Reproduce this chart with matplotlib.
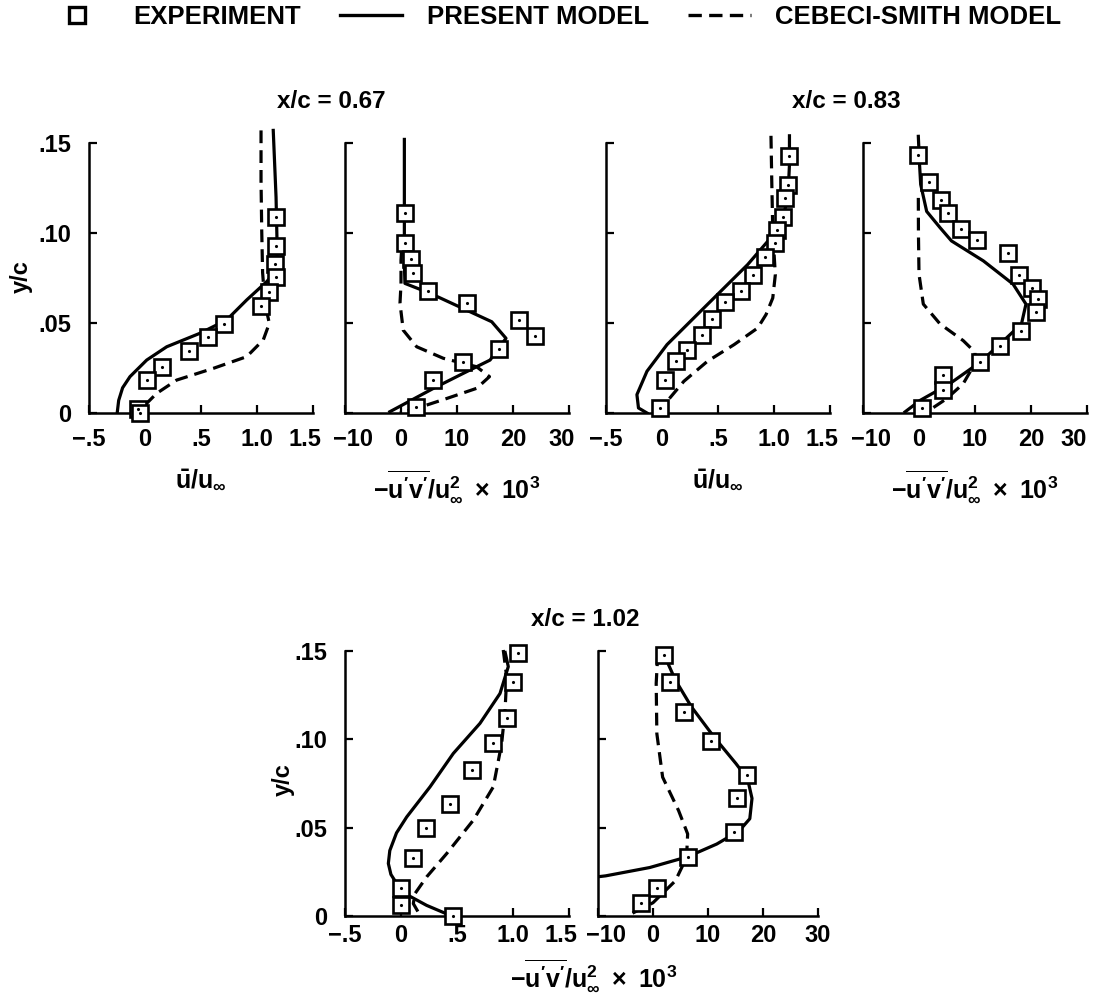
import matplotlib
matplotlib.use("Agg")
import matplotlib.pyplot as plt
from matplotlib.lines import Line2D
from matplotlib.transforms import ScaledTranslation

plt.rcParams['font.family'] = ['Liberation Sans', 'DejaVu Sans']
plt.rcParams['font.weight'] = 'bold'
plt.rcParams['mathtext.fontset'] = 'custom'
plt.rcParams['mathtext.rm'] = 'Liberation Sans:bold'
plt.rcParams['mathtext.it'] = 'Liberation Sans:bold'
plt.rcParams['mathtext.bf'] = 'Liberation Sans:bold'

# ---- data ----
# x/c = 0.67, mean velocity
u067_exp_x = [1.17, 1.17, 1.16, 1.17, 1.11, 1.04, 0.705, 0.565, 0.396, 0.149, 0.015, -0.065, -0.045]
u067_exp_y = [0.109, 0.093, 0.083, 0.0757, 0.0674, 0.0594, 0.0493, 0.0424, 0.0346, 0.0257, 0.0183, 0.002, 0.0]
u067_pm_x = [1.145, 1.17, 1.18, 1.176, 1.087, 0.908, 0.729, 0.491, 0.194, 0.015, -0.134, -0.2, -0.235, -0.247]
u067_pm_y = [0.157, 0.120, 0.092, 0.0794, 0.073, 0.0628, 0.0517, 0.0443, 0.0368, 0.0294, 0.0202, 0.014, 0.007, 0.0007]
u067_cs_x = [1.036, 1.036, 1.042, 1.05, 1.071, 1.11, 1.056, 0.908, 0.61, 0.283, 0.104, -0.015, -0.05]
u067_cs_y = [0.157, 0.129, 0.102, 0.078, 0.061, 0.0498, 0.0406, 0.0313, 0.0248, 0.0183, 0.0109, 0.0035, 0.0007]

# x/c = 0.67, shear stress
uv067_exp_x = [0.71, 0.71, 1.79, 2.2, 4.9, 11.7, 21.0, 23.9, 17.5, 11.1, 5.8, 2.7]
uv067_exp_y = [0.111, 0.0946, 0.0854, 0.078, 0.0678, 0.0613, 0.0517, 0.0428, 0.0356, 0.0282, 0.0183, 0.0032]
uv067_pm_x = [0.6, 0.6, 0.6, 0.7, 5.2, 12.3, 16.2, 18.75, 15.9, 11.1, 5.8, -2.0]
uv067_pm_y = [0.152, 0.120, 0.083, 0.072, 0.0665, 0.0563, 0.0507, 0.0415, 0.0294, 0.022, 0.0137, 0.0007]
uv067_cs_x = [0.1, 0.0, 0.0, -0.18, 0.4, 2.8, 7.55, 13.5, 15.8, 13.5, 8.2, 3.4, -0.2]
uv067_cs_y = [0.09, 0.085, 0.0717, 0.061, 0.046, 0.0368, 0.0304, 0.0257, 0.0202, 0.0137, 0.0081, 0.0032, 0.0]

# x/c = 0.83, mean velocity
u083_exp_x = [1.138, 1.124, 1.102, 1.079, 1.027, 1.012, 0.922, 0.809, 0.704, 0.563, 0.45, 0.36, 0.225, 0.129, 0.024, -0.021]
u083_exp_y = [0.1426, 0.1269, 0.1195, 0.1087, 0.1015, 0.0944, 0.0865, 0.0765, 0.068, 0.0617, 0.0524, 0.0435, 0.0348, 0.029, 0.0185, 0.0028]
u083_pm_x = [1.138, 1.138, 1.124, 1.079, 1.003, 0.944, 0.764, 0.524, 0.284, 0.045, -0.134, -0.224, -0.21, -0.134]
u083_pm_y = [0.154, 0.138, 0.1195, 0.1087, 0.101, 0.0954, 0.0824, 0.0676, 0.0528, 0.038, 0.0232, 0.0102, 0.0028, 0.0]
u083_cs_x = [0.973, 0.98, 0.989, 1.003, 1.012, 0.989, 0.929, 0.854, 0.644, 0.405, 0.195, 0.045, -0.015]
u083_cs_y = [0.154, 0.129, 0.101, 0.086, 0.0769, 0.0639, 0.0547, 0.0472, 0.038, 0.0287, 0.0176, 0.0065, 0.0009]

# x/c = 0.83, shear stress
uv083_exp_x = [-0.12, 1.84, 3.87, 5.23, 7.5, 10.3, 15.95, 17.9, 20.2, 21.3, 20.9, 18.3, 14.5, 10.9, 4.34, 4.23, 0.48]
uv083_exp_y = [0.1432, 0.1284, 0.1186, 0.1112, 0.1024, 0.096, 0.0891, 0.0768, 0.0692, 0.0636, 0.0559, 0.0458, 0.0371, 0.0282, 0.0212, 0.0126, 0.003]
uv083_pm_x = [-0.12, 0.1, 0.3, 1.37, 3.75, 5.8, 11.5, 16.8, 19.1, 18.3, 14.5, 10.9, 5.5, 0.2, -2.5]
uv083_pm_y = [0.1537, 0.138, 0.127, 0.112, 0.103, 0.0956, 0.0845, 0.0716, 0.0605, 0.0495, 0.0384, 0.0282, 0.0163, 0.007, 0.0006]
uv083_cs_x = [-0.12, -0.1, 0.0, 0.77, 3.75, 7.9, 10.0, 10.0, 7.9, 4.95, 1.4]
uv083_cs_y = [0.1195, 0.1, 0.0771, 0.0605, 0.0495, 0.0402, 0.0338, 0.0276, 0.0163, 0.008, 0.0006]

# x/c = 1.02, mean velocity
u102_exp_x = [1.047, 1.003, 0.944, 0.824, 0.631, 0.4375, 0.22, 0.11, 0.003, 0.003, 0.46]
u102_exp_y = [0.1485, 0.1324, 0.1117, 0.0976, 0.0825, 0.0636, 0.0495, 0.0328, 0.0158, 0.0064, 0.0]
u102_pm_x = [0.93, 0.958, 0.884, 0.705, 0.467, 0.259, 0.051, -0.04, -0.1, -0.113, -0.09, -0.04, 0.04, 0.229, 0.4375]
u102_pm_y = [0.149, 0.141, 0.1258, 0.1089, 0.0919, 0.073, 0.056, 0.047, 0.037, 0.0297, 0.0235, 0.0185, 0.0125, 0.006, 0.0004]
u102_cs_x = [0.913, 0.944, 0.929, 0.899, 0.824, 0.646, 0.408, 0.229, 0.125, 0.11, 0.17]
u102_cs_y = [0.1504, 0.135, 0.1164, 0.0976, 0.073, 0.0542, 0.0353, 0.0221, 0.0127, 0.007, 0.0004]

# x/c = 1.02, shear stress
uv102_exp_x = [2.03, 3.02, 5.7, 10.5, 17.1, 15.3, 14.7, 6.3, 0.7, -2.2]
uv102_exp_y = [0.1476, 0.1324, 0.1154, 0.0989, 0.08, 0.0668, 0.0473, 0.0335, 0.0157, 0.0075]
uv102_pm_x = [2.03, 4.07, 7.0, 11.1, 15.1, 17.2, 18.0, 17.6, 15.7, 11.6, 6.3, -0.6, -8.6, -10.5]
uv102_pm_y = [0.1476, 0.1334, 0.1182, 0.1012, 0.0861, 0.0775, 0.0665, 0.055, 0.0482, 0.0407, 0.0335, 0.0274, 0.0227, 0.0220]
uv102_cs_x = [0.87, 0.58, 0.7, 1.75, 4.65, 6.3, 6.1, 4.07, 0.0, -4.1]
uv102_cs_y = [0.1485, 0.1315, 0.1031, 0.0785, 0.0596, 0.0464, 0.0331, 0.0199, 0.0075, 0.001]

u_ticks = [-0.5, 0, 0.5, 1.0, 1.5]
u_ticklabels = ['\u2212.5', '0', '.5', '1.0', '1.5']
uv_ticks = [-10, 0, 10, 20, 30]
uv_ticklabels = ['\u221210', '0', '10', '20', '30']
y_ticks = [0, 0.05, 0.10, 0.15]
y_ticklabels = ['0', '.05', '.10', '.15']

u_label = r'$\bar{\mathrm{u}}/\mathrm{u}_{\infty}$'
uv_label = r"$-\overline{\mathrm{u'v'}}/\mathrm{u}_{\infty}^{2}\ \times\ 10^{3}$"

W, H = 1097, 998
fig = plt.figure(figsize=(W / 100, H / 100), dpi=100)


def px_axes(left, bottom, width, height):
    return fig.add_axes([left / W, 1 - bottom / H, width / W, height / H])


def nudge(label, dx):
    label.set_transform(label.get_transform() + ScaledTranslation(dx / 100, 0, fig.dpi_scale_trans))


def panel(ax, kind, ex, ey, px_, py_, cx, cy, ylab, xpad, xlabel, last_dx=0):
    ax.plot(px_, py_, color='black', lw=2.3, solid_joinstyle='round')
    ax.plot(cx, cy, color='black', lw=2.3, dashes=(4, 2.2))
    ax.plot(ex, ey, ls='none', marker='s', ms=11.5, mfc='white', mec='black',
            mew=1.9, clip_on=False, zorder=5)
    ax.plot(ex, ey, ls='none', marker='.', ms=2.5, color='black', clip_on=False, zorder=6)
    if kind == 'u':
        ax.set_xlim(-0.5, 1.5)
        ax.set_xticks(u_ticks)
        ax.set_xticklabels(u_ticklabels)
    else:
        ax.set_xlim(-10, 30)
        ax.set_xticks(uv_ticks)
        ax.set_xticklabels(uv_ticklabels)
    ax.set_ylim(0, 0.16)
    ax.set_yticks(y_ticks)
    if ylab:
        ax.set_yticklabels(y_ticklabels)
    else:
        ax.set_yticklabels([])
    for s in ['top', 'right']:
        ax.spines[s].set_visible(False)
    for s in ['left', 'bottom']:
        ax.spines[s].set_linewidth(1.8)
    ax.spines['left'].set_bounds(0, 0.15)
    ax.tick_params(direction='in', length=6, width=1.6, labelsize=17)
    ax.tick_params(axis='x', pad=xpad)
    ax.tick_params(axis='y', pad=13)
    ax.patch.set_alpha(0)
    if xlabel:
        ax.set_xlabel(u_label if kind == 'u' else uv_label, fontsize=18, labelpad=12)
    labels = ax.get_xticklabels()
    if kind == 'u':
        nudge(labels[-1], -8)
    else:
        nudge(labels[0], 8)
        if last_dx:
            nudge(labels[-1], last_dx)


ax1 = px_axes(89, 413, 224, 288)
panel(ax1, 'u', u067_exp_x, u067_exp_y, u067_pm_x, u067_pm_y, u067_cs_x, u067_cs_y, True, 11, True)
ax2 = px_axes(345, 413, 224, 288)
panel(ax2, 'uv', uv067_exp_x, uv067_exp_y, uv067_pm_x, uv067_pm_y, uv067_cs_x, uv067_cs_y, False, 11, True, -7)
ax3 = px_axes(606, 413, 224, 288)
panel(ax3, 'u', u083_exp_x, u083_exp_y, u083_pm_x, u083_pm_y, u083_cs_x, u083_cs_y, False, 11, True)
ax4 = px_axes(863, 413, 224, 288)
panel(ax4, 'uv', uv083_exp_x, uv083_exp_y, uv083_pm_x, uv083_pm_y, uv083_cs_x, uv083_cs_y, False, 11, True, -13)
ax5 = px_axes(345, 916, 224, 283)
panel(ax5, 'u', u102_exp_x, u102_exp_y, u102_pm_x, u102_pm_y, u102_cs_x, u102_cs_y, True, 6, False)
ax6 = px_axes(598, 916, 220, 283)
panel(ax6, 'uv', uv102_exp_x, uv102_exp_y, uv102_pm_x, uv102_pm_y, uv102_cs_x, uv102_cs_y, False, 6, False)

# y labels
fig.text(21 / W, 1 - 277 / H, 'y/c', rotation=90, ha='center', va='center', fontsize=17)
fig.text(283 / W, 1 - 780 / H, 'y/c', rotation=90, ha='center', va='center', fontsize=17)

# station titles
fig.text(331 / W, 1 - 101 / H, 'x/c = 0.67', ha='center', va='center', fontsize=17.5)
fig.text(846 / W, 1 - 101 / H, 'x/c = 0.83', ha='center', va='center', fontsize=17.5)
fig.text(585 / W, 1 - 619 / H, 'x/c = 1.02', ha='center', va='center', fontsize=17.5)

# lone label under the bottom pair
fig.text(594 / W, 1 - 975 / H, uv_label, ha='center', va='center', fontsize=18)

handles = [
    Line2D([], [], ls='none', marker='s', ms=11, mfc='white', mec='black', mew=2.4),
    Line2D([], [], color='black', lw=2.4),
    Line2D([], [], color='black', lw=2.4, dashes=(4, 2.2)),
]
fig.legend(handles, ['EXPERIMENT', 'PRESENT MODEL', 'CEBECI-SMITH MODEL'],
           loc='center left', bbox_to_anchor=(46 / W, 1 - 17 / H), ncol=3,
           frameon=False, fontsize=18.5, handlelength=2.45, handletextpad=0.95,
           columnspacing=1.5, borderpad=0, borderaxespad=0)

fig.savefig('out.png', dpi=100)
